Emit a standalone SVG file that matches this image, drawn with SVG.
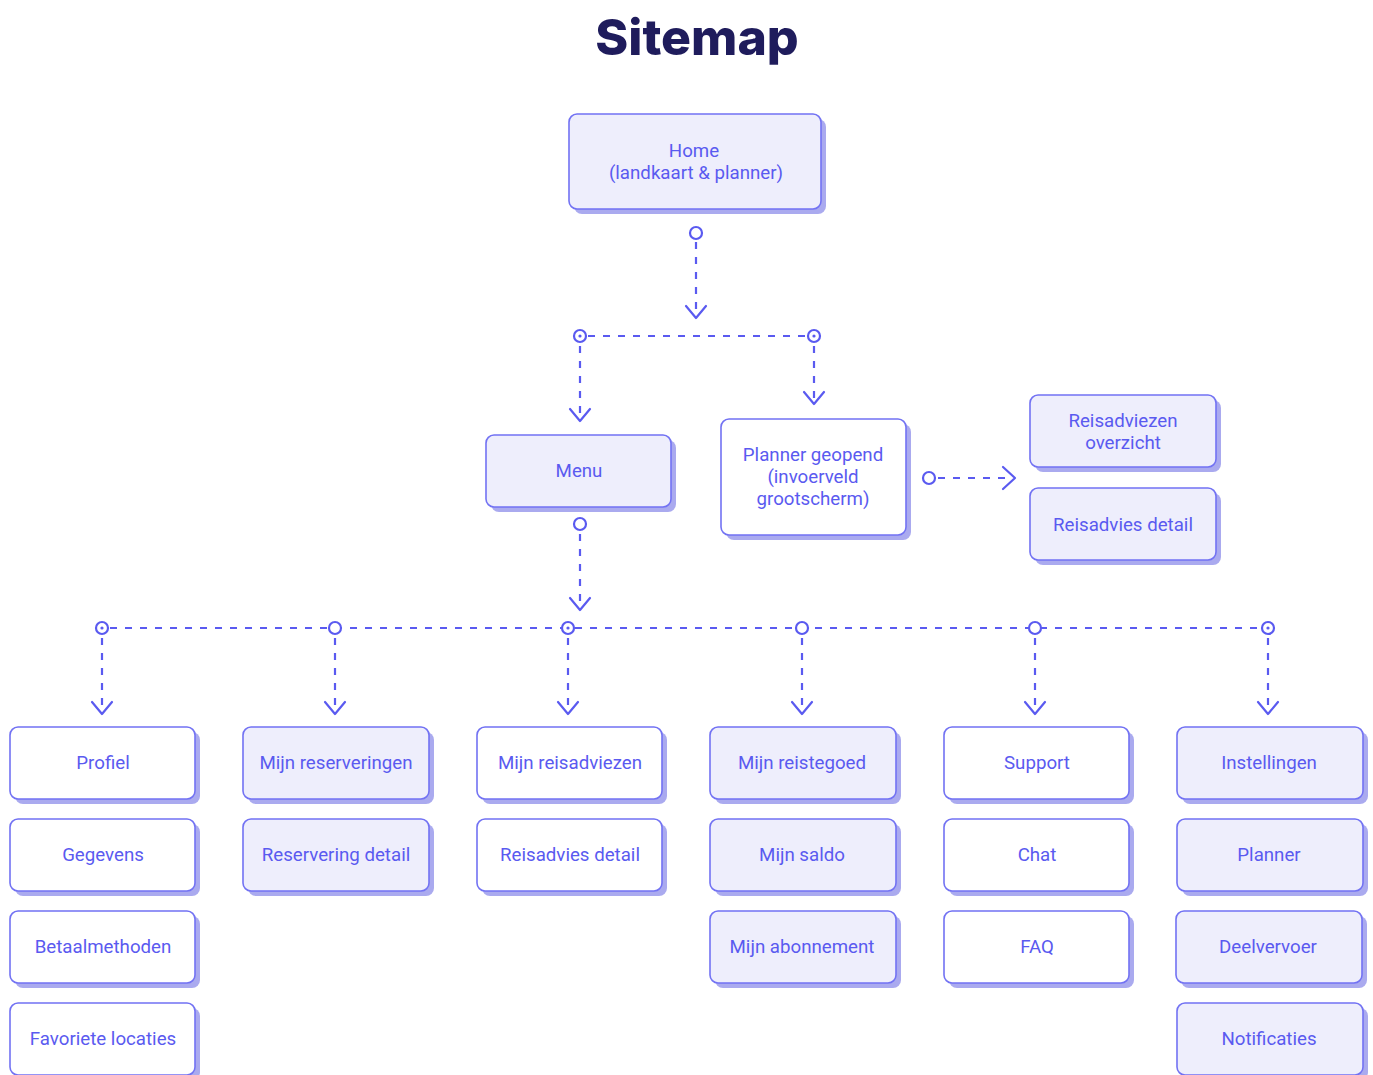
<svg xmlns="http://www.w3.org/2000/svg" width="1373" height="1075" viewBox="0 0 1373 1075">
<defs>
<style>
.title{font-family:"Inter","Liberation Sans",sans-serif;font-weight:800;font-size:50px;fill:#1F1C5C}
.box{stroke:#7272F3;stroke-width:1.6}
.lt{fill:#EEEEFC}
.wh{fill:#FFFFFF}
.sh{fill:#AAAAEF}
.lbl{font-family:Roboto,"Liberation Sans",sans-serif;font-size:18.7px;fill:#5A5AF0;text-anchor:middle}
.dash{stroke:#5A5AF0;stroke-width:2.2;fill:none;stroke-dasharray:7 8}
.arr{stroke:#5A5AF0;stroke-width:2.2;fill:none;stroke-linecap:round;stroke-linejoin:round}
.dot{stroke:#5A5AF0;stroke-width:2.2;fill:#fff}
.cd{fill:#5A5AF0}
</style>
</defs>
<rect width="1373" height="1075" fill="#FFFFFF"/>
<text class="title" x="697" y="55" text-anchor="middle">Sitemap</text>

<g id="connectors">
  <line class="dash" x1="696" y1="242" x2="696" y2="314"/>
  <polyline class="arr" points="686,306 696,318 706,306"/>
  <circle class="dot" cx="696" cy="233" r="6"/>
  <line class="dash" x1="588" y1="336" x2="806" y2="336"/>
  <line class="dash" x1="580" y1="346" x2="580" y2="417"/>
  <polyline class="arr" points="570,409 580,421 590,409"/>
  <line class="dash" x1="814" y1="346" x2="814" y2="400"/>
  <polyline class="arr" points="804,392 814,404 824,392"/>
  <circle class="dot" cx="580" cy="336" r="6"/><circle class="cd" cx="580" cy="336" r="1.6"/>
  <circle class="dot" cx="814" cy="336" r="6"/><circle class="cd" cx="814" cy="336" r="1.6"/>
  <line class="dash" x1="938" y1="478" x2="1011" y2="478"/>
  <polyline class="arr" points="1003,467 1015,478 1003,489"/>
  <circle class="dot" cx="929" cy="478" r="6"/>
  <line class="dash" x1="580" y1="534" x2="580" y2="606"/>
  <polyline class="arr" points="570,598 580,610 590,598"/>
  <circle class="dot" cx="580" cy="524" r="6"/>
  <line class="dash" x1="110" y1="628" x2="1260" y2="628"/>
  <line class="dash" x1="102" y1="638" x2="102" y2="710"/>
  <polyline class="arr" points="92,702 102,714 112,702"/>
  <line class="dash" x1="335" y1="638" x2="335" y2="710"/>
  <polyline class="arr" points="325,702 335,714 345,702"/>
  <line class="dash" x1="568" y1="638" x2="568" y2="710"/>
  <polyline class="arr" points="558,702 568,714 578,702"/>
  <line class="dash" x1="802" y1="638" x2="802" y2="710"/>
  <polyline class="arr" points="792,702 802,714 812,702"/>
  <line class="dash" x1="1035" y1="638" x2="1035" y2="710"/>
  <polyline class="arr" points="1025,702 1035,714 1045,702"/>
  <line class="dash" x1="1268" y1="638" x2="1268" y2="710"/>
  <polyline class="arr" points="1258,702 1268,714 1278,702"/>
  <circle class="dot" cx="102" cy="628" r="6"/><circle class="cd" cx="102" cy="628" r="1.6"/>
  <circle class="dot" cx="335" cy="628" r="6"/>
  <circle class="dot" cx="568" cy="628" r="6"/><circle class="cd" cx="568" cy="628" r="1.6"/>
  <circle class="dot" cx="802" cy="628" r="6"/>
  <circle class="dot" cx="1035" cy="628" r="6"/>
  <circle class="dot" cx="1268" cy="628" r="6"/><circle class="cd" cx="1268" cy="628" r="1.6"/>
</g>

<g id="home">
  <rect class="sh" x="574" y="119" width="252" height="95" rx="8"/>
  <rect class="box lt" x="569" y="114" width="252" height="95" rx="8"/>
  <text class="lbl" x="694" y="157">Home</text>
  <text class="lbl" x="696" y="179">(landkaart &amp; planner)</text>
</g>
<g id="menu">
  <rect class="sh" x="491" y="440" width="185" height="72" rx="8"/>
  <rect class="box lt" x="486" y="435" width="185" height="72" rx="8"/>
  <text class="lbl" x="579" y="477">Menu</text>
</g>
<g id="planner-geopend">
  <rect class="sh" x="726" y="424" width="185" height="116" rx="8"/>
  <rect class="box wh" x="721" y="419" width="185" height="116" rx="8"/>
  <text class="lbl" x="813" y="461">Planner geopend</text>
  <text class="lbl" x="813" y="483">(invoerveld</text>
  <text class="lbl" x="813" y="505">grootscherm)</text>
</g>
<g id="reisadviezen-overzicht">
  <rect class="sh" x="1035" y="400" width="186" height="72" rx="8"/>
  <rect class="box lt" x="1030" y="395" width="186" height="72" rx="8"/>
  <text class="lbl" x="1123" y="427">Reisadviezen</text>
  <text class="lbl" x="1123" y="449">overzicht</text>
</g>
<g id="reisadvies-detail-top">
  <rect class="sh" x="1035" y="493" width="186" height="72" rx="8"/>
  <rect class="box lt" x="1030" y="488" width="186" height="72" rx="8"/>
  <text class="lbl" x="1123" y="531">Reisadvies detail</text>
</g>

<g id="profiel">
  <rect class="sh" x="15" y="732" width="185" height="72" rx="8"/>
  <rect class="box wh" x="10" y="727" width="185" height="72" rx="8"/>
  <text class="lbl" x="103" y="769">Profiel</text>
</g>
<g id="gegevens">
  <rect class="sh" x="15" y="824" width="185" height="72" rx="8"/>
  <rect class="box wh" x="10" y="819" width="185" height="72" rx="8"/>
  <text class="lbl" x="103" y="861">Gegevens</text>
</g>
<g id="betaalmethoden">
  <rect class="sh" x="15" y="916" width="185" height="72" rx="8"/>
  <rect class="box wh" x="10" y="911" width="185" height="72" rx="8"/>
  <text class="lbl" x="103" y="953">Betaalmethoden</text>
</g>
<g id="favoriete-locaties">
  <rect class="sh" x="15" y="1008" width="185" height="72" rx="8"/>
  <rect class="box wh" x="10" y="1003" width="185" height="72" rx="8"/>
  <text class="lbl" x="103" y="1045">Favoriete locaties</text>
</g>

<g id="mijn-reserveringen">
  <rect class="sh" x="248" y="732" width="186" height="72" rx="8"/>
  <rect class="box lt" x="243" y="727" width="186" height="72" rx="8"/>
  <text class="lbl" x="336" y="769">Mijn reserveringen</text>
</g>
<g id="reservering-detail">
  <rect class="sh" x="248" y="824" width="186" height="72" rx="8"/>
  <rect class="box lt" x="243" y="819" width="186" height="72" rx="8"/>
  <text class="lbl" x="336" y="861">Reservering detail</text>
</g>

<g id="mijn-reisadviezen">
  <rect class="sh" x="482" y="732" width="185" height="72" rx="8"/>
  <rect class="box wh" x="477" y="727" width="185" height="72" rx="8"/>
  <text class="lbl" x="570" y="769">Mijn reisadviezen</text>
</g>
<g id="reisadvies-detail">
  <rect class="sh" x="482" y="824" width="185" height="72" rx="8"/>
  <rect class="box wh" x="477" y="819" width="185" height="72" rx="8"/>
  <text class="lbl" x="570" y="861">Reisadvies detail</text>
</g>

<g id="mijn-reistegoed">
  <rect class="sh" x="715" y="732" width="186" height="72" rx="8"/>
  <rect class="box lt" x="710" y="727" width="186" height="72" rx="8"/>
  <text class="lbl" x="802" y="769">Mijn reistegoed</text>
</g>
<g id="mijn-saldo">
  <rect class="sh" x="715" y="824" width="186" height="72" rx="8"/>
  <rect class="box lt" x="710" y="819" width="186" height="72" rx="8"/>
  <text class="lbl" x="802" y="861">Mijn saldo</text>
</g>
<g id="mijn-abonnement">
  <rect class="sh" x="715" y="916" width="186" height="72" rx="8"/>
  <rect class="box lt" x="710" y="911" width="186" height="72" rx="8"/>
  <text class="lbl" x="802" y="953">Mijn abonnement</text>
</g>

<g id="support">
  <rect class="sh" x="949" y="732" width="185" height="72" rx="8"/>
  <rect class="box wh" x="944" y="727" width="185" height="72" rx="8"/>
  <text class="lbl" x="1037" y="769">Support</text>
</g>
<g id="chat">
  <rect class="sh" x="949" y="824" width="185" height="72" rx="8"/>
  <rect class="box wh" x="944" y="819" width="185" height="72" rx="8"/>
  <text class="lbl" x="1037" y="861">Chat</text>
</g>
<g id="faq">
  <rect class="sh" x="949" y="916" width="185" height="72" rx="8"/>
  <rect class="box wh" x="944" y="911" width="185" height="72" rx="8"/>
  <text class="lbl" x="1037" y="953">FAQ</text>
</g>

<g id="instellingen">
  <rect class="sh" x="1182" y="732" width="186" height="72" rx="8"/>
  <rect class="box lt" x="1177" y="727" width="186" height="72" rx="8"/>
  <text class="lbl" x="1269" y="769">Instellingen</text>
</g>
<g id="planner">
  <rect class="sh" x="1182" y="824" width="186" height="72" rx="8"/>
  <rect class="box lt" x="1177" y="819" width="186" height="72" rx="8"/>
  <text class="lbl" x="1269" y="861">Planner</text>
</g>
<g id="deelvervoer">
  <rect class="sh" x="1181" y="916" width="186" height="72" rx="8"/>
  <rect class="box lt" x="1176" y="911" width="186" height="72" rx="8"/>
  <text class="lbl" x="1268" y="953">Deelvervoer</text>
</g>
<g id="notificaties">
  <rect class="sh" x="1182" y="1008" width="186" height="72" rx="8"/>
  <rect class="box lt" x="1177" y="1003" width="186" height="72" rx="8"/>
  <text class="lbl" x="1269" y="1045">Notificaties</text>
</g>
</svg>
